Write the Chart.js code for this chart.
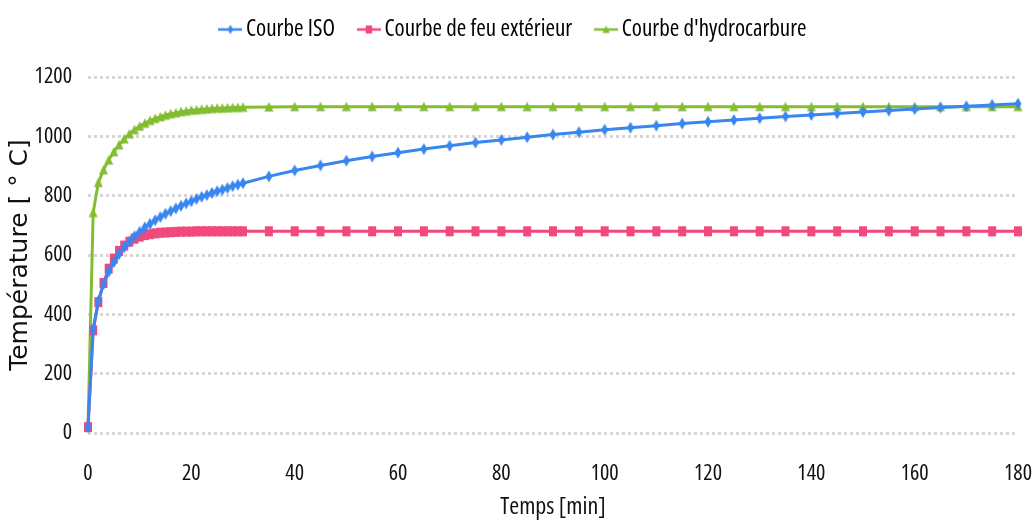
<!DOCTYPE html>
<html>
<head>
<meta charset="utf-8">
<script src="https://cdn.jsdelivr.net/npm/chart.js@4/dist/chart.umd.min.js"></script>
<style>
  html, body { margin: 0; padding: 0; background: #fff; }
  #wrap { width: 1033px; height: 527px; }
</style>
</head>
<body>
<div id="wrap"><canvas id="fireChart" width="1033" height="527"></canvas></div>
<script>
// time steps [min]: every minute up to 30, then every 5 minutes
const times = [0,1,2,3,4,5,6,7,8,9,10,11,12,13,14,15,16,17,18,19,20,21,22,23,24,25,26,27,28,29,30,
  35,40,45,50,55,60,65,70,75,80,85,90,95,100,105,110,115,120,125,130,135,140,145,150,155,160,165,170,175,180];

// temperatures [°C]
const isoCurve = [20,349,445,502,544,576,603,626,645,663,678,693,705,717,728,739,748,757,766,774,781,789,796,802,809,815,820,826,832,837,842,
  865,885,902,918,932,945,957,968,979,988,997,1006,1014,1022,1029,1036,1043,1049,1055,1061,1067,1072,1077,1082,1087,1092,1097,1101,1106,1110];

const externalCurve = [20,346,441,506,554,588,614,632,645,655,662,667,670,673,675,676,677,678,679,679,679,680,680,680,680,680,680,680,680,680,680,
  680,680,680,680,680,680,680,680,680,680,680,680,680,680,680,680,680,680,680,680,680,680,680,680,680,680,680,680,680,680];

const hydroCurve = [20,743,844,887,920,948,971,991,1008,1022,1034,1044,1053,1060,1066,1071,1076,1079,1083,1085,1088,1089,1091,1092,1094,1095,1095,1096,1097,1097,1098,
  1099,1100,1100,1100,1100,1100,1100,1100,1100,1100,1100,1100,1100,1100,1100,1100,1100,1100,1100,1100,1100,1100,1100,1100,1100,1100,1100,1100,1100,1100];

const seriesNames = ["Courbe ISO", "Courbe de feu extérieur", "Courbe d'hydrocarbure"];
const colors = ["#3a86f0", "#f2487c", "#83bd32"];
const markers = ["diamond", "square", "triangle"];

const narrow = "'Open Sans', 'Roboto Condensed', sans-serif";
const condensed = size => ({ family: narrow, size: size, style: "normal", weight: "condensed" });

const toPoints = vals => vals.map((v, i) => ({ x: times[i], y: v }));

// draw one marker centred on (cx, cy), s = scale
function drawMarker(g, marker, cx, cy, s) {
  g.beginPath();
  if (marker === "square") {
    g.rect(cx - 4 * s, cy - 5 * s, 8 * s, 10 * s);
  } else if (marker === "diamond") {
    g.moveTo(cx, cy - 6 * s); g.lineTo(cx + 3.5 * s, cy); g.lineTo(cx, cy + 6 * s); g.lineTo(cx - 3.5 * s, cy);
  } else {
    g.moveTo(cx, cy - 5 * s); g.lineTo(cx + 4.5 * s, cy + 4.5 * s); g.lineTo(cx - 4.5 * s, cy + 4.5 * s);
  }
  g.closePath();
  g.fill();
}

function markerCanvas(color, marker) {
  const c = document.createElement("canvas");
  c.width = 12; c.height = 14;
  const g = c.getContext("2d");
  g.fillStyle = color;
  drawMarker(g, marker, 6, 7, 1);
  return c;
}

// small line + marker icon for the legend
function legendIcon(color, marker) {
  const c = document.createElement("canvas");
  c.width = 24; c.height = 14;
  const g = c.getContext("2d");
  g.strokeStyle = color; g.fillStyle = color; g.lineWidth = 2.5;
  g.beginPath(); g.moveTo(0, 7); g.lineTo(24, 7); g.stroke();
  drawMarker(g, marker, 12, 7, 0.8);
  return c;
}

const datasets = [isoCurve, externalCurve, hydroCurve].map((vals, k) => ({
  label: seriesNames[k],
  data: toPoints(vals),
  borderColor: colors[k],
  backgroundColor: colors[k],
  borderWidth: 3,
  pointStyle: markerCanvas(colors[k], markers[k]),
  legendStyle: legendIcon(colors[k], markers[k]),
  pointRadius: 5,
  clip: false,
  tension: 0
}));

// leave room between the legend and the plot
const legendGap = {
  id: "legendGap",
  beforeInit(chart) {
    const fit = chart.legend.fit;
    chart.legend.fit = function () {
      fit.bind(chart.legend)();
      this.height += 26;
    };
  }
};

new Chart(document.getElementById("fireChart"), {
  type: "line",
  data: { datasets: datasets },
  plugins: [legendGap],
  options: {
    responsive: false,
    animation: false,
    layout: { padding: { top: -12, right: 0, left: 0, bottom: 0 } },
    plugins: {
      legend: {
        position: "top",
        labels: {
          usePointStyle: true,
          pointStyleWidth: 8,
          padding: 30,
          color: "#111",
          font: condensed(23),
          generateLabels: chart => chart.data.datasets.map((ds, i) => ({
            text: ds.label,
            fillStyle: ds.borderColor,
            strokeStyle: ds.borderColor,
            pointStyle: ds.legendStyle,
            lineWidth: 0,
            datasetIndex: i,
            hidden: false
          }))
        }
      },
      tooltip: { enabled: false }
    },
    scales: {
      x: {
        type: "linear",
        min: 0,
        max: 180,
        afterFit: s => { s.height = 94; s.paddingRight = 15; },
        border: { display: false },
        grid: { display: false },
        ticks: {
          stepSize: 20,
          color: "#111",
          padding: 20,
          font: condensed(22)
        },
        title: {
          display: true,
          text: "Temps [min]",
          color: "#111",
          padding: { top: 0, bottom: 5 },
          font: condensed(24)
        }
      },
      y: {
        min: 0,
        max: 1200,
        afterFit: s => { s.width = 88; },
        border: { display: false, dash: [3, 3] },
        grid: {
          color: "#d6d6d6",
          lineWidth: 3,
          drawTicks: false
        },
        ticks: {
          stepSize: 200,
          color: "#111",
          padding: 16,
          font: condensed(22),
          callback: v => String(v)
        },
        title: {
          display: true,
          text: "Température [ ° C]",
          color: "#111",
          padding: { top: 5, bottom: 0 },
          font: { family: "'DejaVu Sans', sans-serif", size: 25 }
        }
      }
    }
  }
});
</script>
</body>
</html>
